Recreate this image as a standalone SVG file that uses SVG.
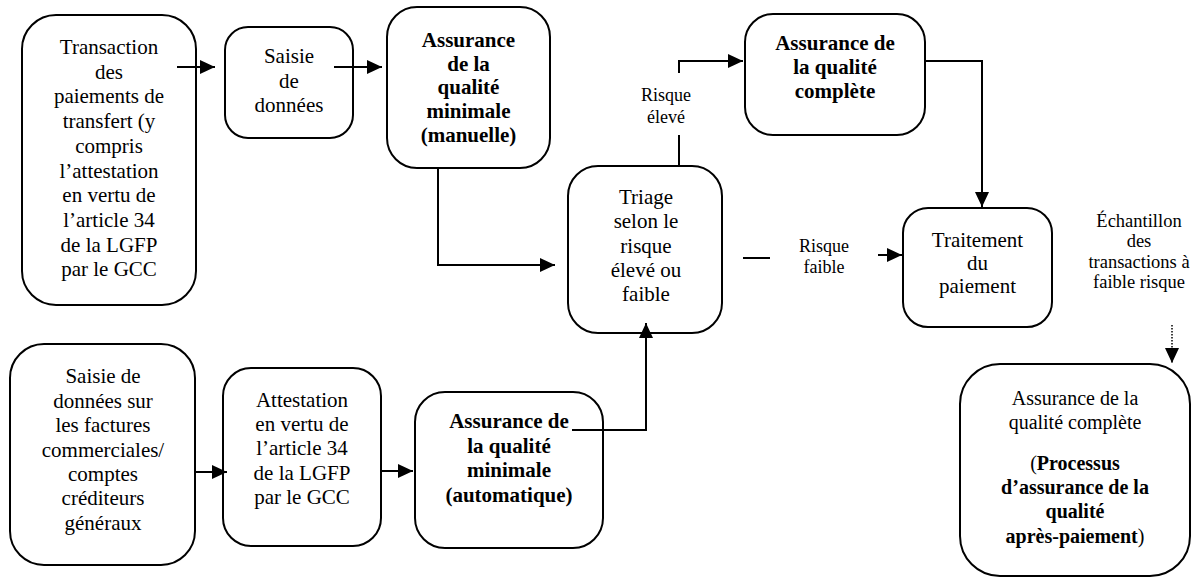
<svg xmlns="http://www.w3.org/2000/svg" width="1194" height="578" viewBox="0 0 1194 578">
<style>
.box{fill:#fff;stroke:#000;stroke-width:2}
.t{font-family:"Liberation Serif","Times New Roman",serif;font-size:21px;text-anchor:middle;fill:#000}
.b{font-weight:bold}
.s{font-size:18px}
.f{font-size:20px}
.c{fill:none;stroke:#000;stroke-width:2}
.d{fill:none;stroke:#000;stroke-width:1.5;stroke-dasharray:1.5 1.5}
</style>
<defs>
<marker id="ah" markerUnits="userSpaceOnUse" markerWidth="16" markerHeight="16" refX="15" refY="7" orient="auto"><path d="M0,0 L15,7 L0,14 z" fill="#000"/></marker>
</defs>
<rect width="1194" height="578" fill="#fff"/>
<g id="n1"><rect class="box" x="22" y="15" width="174" height="290" rx="34"/>
<text class="t" x="109"><tspan x="109" y="54">Transaction</tspan><tspan x="109" y="78.7">des</tspan><tspan x="109" y="103.4">paiements de</tspan><tspan x="109" y="128.1">transfert (y</tspan><tspan x="109" y="152.8">compris</tspan><tspan x="109" y="177.5">l’attestation</tspan><tspan x="109" y="202.2">en vertu de</tspan><tspan x="109" y="226.9">l’article 34</tspan><tspan x="109" y="251.6">de la LGFP</tspan><tspan x="109" y="276.3">par le GCC</tspan></text></g>
<g id="n2"><rect class="box" x="225" y="27" width="128" height="111" rx="23"/>
<text class="t" x="289"><tspan x="289" y="63">Saisie</tspan><tspan x="289" y="87.5">de</tspan><tspan x="289" y="112">données</tspan></text></g>
<g id="n3"><rect class="box" x="387" y="7" width="163" height="161" rx="30"/>
<text class="t b" x="468.5"><tspan x="468.5" y="47">Assurance</tspan><tspan x="468.5" y="70.7">de la</tspan><tspan x="468.5" y="94.4">qualité</tspan><tspan x="468.5" y="118.1">minimale</tspan><tspan x="468.5" y="141.8">(manuelle)</tspan></text></g>
<g id="n4"><rect class="box" x="568" y="166" width="154" height="167" rx="30"/>
<text class="t" x="646"><tspan x="646" y="204">Triage</tspan><tspan x="646" y="228.3">selon le</tspan><tspan x="646" y="252.6">risque</tspan><tspan x="646" y="276.9">élevé ou</tspan><tspan x="646" y="301.2">faible</tspan></text></g>
<g id="n5"><rect class="box" x="745" y="14" width="180" height="121" rx="28"/>
<text class="t b" x="835"><tspan x="835" y="50">Assurance de</tspan><tspan x="835" y="74">la qualité</tspan><tspan x="835" y="98">complète</tspan></text></g>
<g id="n6"><rect class="box" x="903" y="208" width="149" height="119" rx="25"/>
<text class="t" x="977.5"><tspan x="977.5" y="246.7">Traitement</tspan><tspan x="977.5" y="270">du</tspan><tspan x="977.5" y="293.3">paiement</tspan></text></g>
<g id="n7"><rect class="box" x="10" y="344" width="185" height="221" rx="34"/>
<text class="t" x="103"><tspan x="103" y="383.3">Saisie de</tspan><tspan x="103" y="407.7">données sur</tspan><tspan x="103" y="432.1">les factures</tspan><tspan x="103" y="456.5">commerciales/</tspan><tspan x="103" y="480.9">comptes</tspan><tspan x="103" y="505.3">créditeurs</tspan><tspan x="103" y="529.7">généraux</tspan></text></g>
<g id="n8"><rect class="box" x="223" y="368" width="158" height="178" rx="28"/>
<text class="t" x="302"><tspan x="302" y="406.7">Attestation</tspan><tspan x="302" y="431">en vertu de</tspan><tspan x="302" y="455.3">l’article 34</tspan><tspan x="302" y="479.6">de la LGFP</tspan><tspan x="302" y="503.9">par le GCC</tspan></text></g>
<g id="n9"><rect class="box" x="415" y="392" width="188" height="156" rx="30"/>
<text class="t b" x="509"><tspan x="509" y="428.3">Assurance de</tspan><tspan x="509" y="452.7">la qualité</tspan><tspan x="509" y="477.1">minimale</tspan><tspan x="509" y="501.5">(automatique)</tspan></text></g>
<g id="n10"><rect class="box" x="960" y="364" width="230" height="212" rx="40"/>
<text class="t f" x="1075"><tspan x="1075" y="405">Assurance de la</tspan><tspan x="1075" y="428.5">qualité complète</tspan></text>
<text class="t f" x="1075"><tspan x="1075" y="470">(<tspan class="b">Processus</tspan></tspan><tspan class="b" x="1075" y="494">d’assurance de la</tspan><tspan class="b" x="1075" y="518">qualité</tspan><tspan x="1075" y="542.5"><tspan class="b">après-paiement</tspan>)</tspan></text></g>
<g id="labels">
<text class="t s" x="666"><tspan x="666" y="101">Risque</tspan><tspan x="666" y="123">élevé</tspan></text>
<text class="t s" x="824"><tspan x="824" y="252">Risque</tspan><tspan x="824" y="273">faible</tspan></text>
<text class="t" style="font-size:18.5px" x="1139"><tspan x="1139" y="227">Échantillon</tspan><tspan x="1139" y="247.3">des</tspan><tspan x="1139" y="267.6">transactions à</tspan><tspan x="1139" y="288">faible risque</tspan></text>
</g>
<g id="connectors">
<path class="c" d="M177,67 H215" marker-end="url(#ah)"/>
<path class="c" d="M334,67 H382" marker-end="url(#ah)"/>
<path class="c" d="M438,168 V265 H555" marker-end="url(#ah)"/>
<path class="c" d="M679,166 V135"/>
<path class="c" d="M679,73 V61 H743" marker-end="url(#ah)"/>
<path class="c" d="M925,61 H982 V207" marker-end="url(#ah)"/>
<path class="c" d="M743,258 H770"/>
<path class="c" d="M878,255 H902" marker-end="url(#ah)"/>
<path class="c" d="M195,472 H227" marker-end="url(#ah)"/>
<path class="c" d="M381,471 H413" marker-end="url(#ah)"/>
<path class="c" d="M572,430 H646 V323" marker-end="url(#ah)"/>
<path class="d" d="M1172,325 V363" marker-end="url(#ah)"/>
</g>
</svg>
